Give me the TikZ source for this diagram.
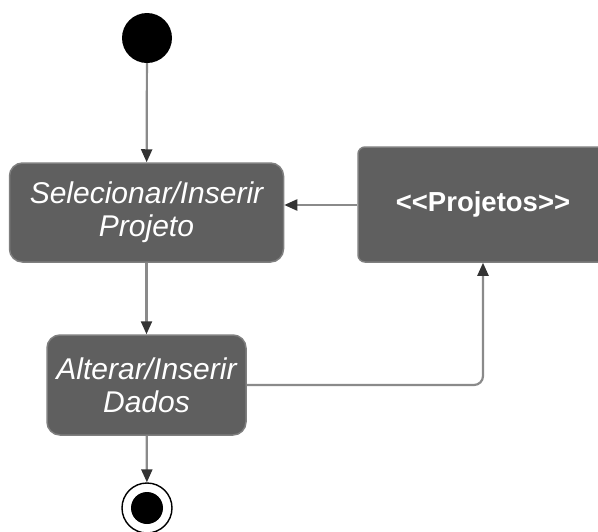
\documentclass[tikz,border=0pt]{standalone}
\usepackage{fontspec}
\setmainfont{Liberation Sans}
\usetikzlibrary{arrows.meta}
\definecolor{boxfill}{HTML}{5F5F5F}
\definecolor{linec}{HTML}{8A8A8A}
\definecolor{tipc}{HTML}{333333}
\tikzset{
  actbox/.style={draw=boxfill!80!white, line width=1.5pt, fill=boxfill, rounded corners=13pt, align=center, text=white,
    font=\fontsize{30}{33}\selectfont\itshape, inner sep=0pt},
  conn/.style={draw=linec, line width=2.2pt, -{Triangle[length=13pt,width=11pt,color=tipc]}},
}
\begin{document}
\begin{tikzpicture}[x=1pt,y=-1pt]
\useasboundingbox (0,0) rectangle (598,531);
\node[circle, fill=black, minimum size=50pt, inner sep=0pt] (start) at (147,38) {};
\node[actbox, minimum width=274pt, minimum height=99pt] (sel) at (146.5,212.5) {Selecionar/Inserir\\Projeto};
\node[actbox, rounded corners=7pt, minimum width=250pt, minimum height=115pt, font=\fontsize{27.5}{30}\selectfont\bfseries] (proj) at (483,204.5) {\raisebox{3pt}{<{}<Projetos>{}>}};
\node[actbox, minimum width=199pt, minimum height=100pt] (alt) at (146.5,385) {Alterar/Inserir\\Dados};
\node[circle, draw=black, line width=1.4pt, fill=white, minimum size=50pt, inner sep=0pt] (end) at (147,508) {};
\node[circle, fill=black, minimum size=32pt, inner sep=0pt] (endin) at (end.center) {};
\draw[conn] (start) -- (sel);
\draw[conn] (sel) -- (alt);
\draw[conn] (alt) -- (end);
\draw[conn] (proj.west |- 0,205) -- (sel.east |- 0,205);
\draw[conn, rounded corners=9pt] (alt.east) -| (proj.south);
\end{tikzpicture}
\end{document}
